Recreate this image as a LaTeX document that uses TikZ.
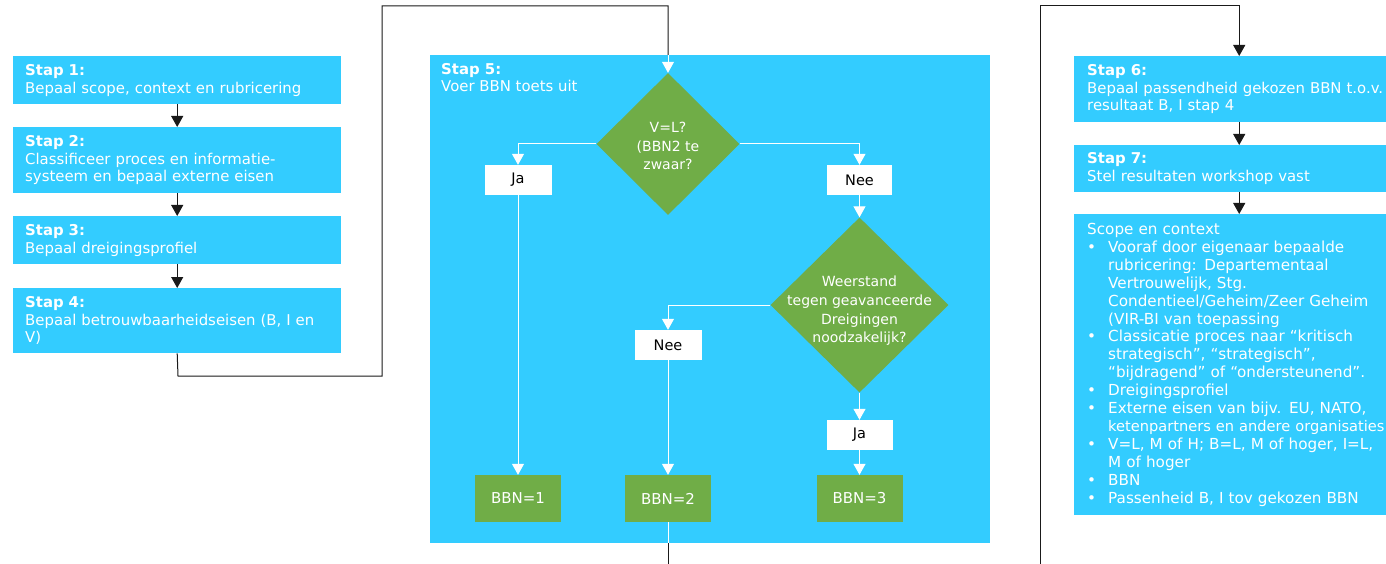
\documentclass[tikz,border=0pt]{standalone}
\usepackage{fontspec}
\setmainfont{DejaVu Sans}
\usetikzlibrary{arrows.meta,shapes.geometric}
\definecolor{stepblue}{HTML}{33CCFF}
\definecolor{leafgreen}{HTML}{70AD47}
\definecolor{linkgray}{HTML}{1A1A1A}

\tikzset{
  stepbox/.style={fill=stepblue, text=white, anchor=north west, align=left,
    inner xsep=12pt, inner ysep=0pt, font=\fontsize{14.9}{17.7}\selectfont},
  decision/.style={diamond, fill=leafgreen, inner sep=0pt},
  dtext/.style={text=white, align=center, font=\fontsize{14}{18.6}\selectfont},
  answer/.style={fill=white, text=black, minimum height=30pt, inner sep=0pt,
    font=\fontsize{14.5}{17}\selectfont},
  leaf/.style={fill=leafgreen, text=white, minimum width=86pt, minimum height=47pt,
    inner sep=0pt, font=\fontsize{15}{17}\selectfont},
  link/.style={draw=linkgray, line width=1pt},
  blackarrow/.style={link, -{Triangle[width=12pt,length=11pt]}},
  whitelink/.style={draw=white, line width=1pt},
  whitearrow/.style={whitelink, -{Triangle[width=12pt,length=11pt]}},
}

\begin{document}
\begin{tikzpicture}[x=1pt,y=-1pt]
\useasboundingbox (0,0) rectangle (1386,564);
\fill[white] (0,0) rectangle (1386,564);

% left column: steps 1-4
\node[stepbox, text width=304pt, minimum height=48pt] (s1) at (13,56)
  {\textbf{Stap 1:}\\Bepaal scope, context en rubricering};
\node[stepbox, text width=304pt, minimum height=66pt] (s2) at (13,127)
  {\textbf{Stap 2:}\\Classificeer proces en informatie-\\systeem en bepaal externe eisen};
\node[stepbox, text width=304pt, minimum height=48pt] (s3) at (13,216)
  {\textbf{Stap 3:}\\Bepaal dreigingsprofiel};
\node[stepbox, text width=304pt, minimum height=65pt] (s4) at (13,288)
  {\textbf{Stap 4:}\\Bepaal betrouwbaarheidseisen (B, I en\\V)};

\draw[blackarrow] (s1.south) -- (s2.north);
\draw[blackarrow] (s2.south) -- (s3.north);
\draw[blackarrow] (s3.south) -- (s4.north);

% step 5: the BBN test
\node[fill=stepblue, anchor=north west, minimum width=560pt, minimum height=488pt,
  inner sep=0pt] (s5) at (430,55) {};
\node[stepbox, fill=none, inner xsep=0pt] (s5t) at (441,63)
  {\textbf{Stap 5:}\\Voer BBN toets uit};

\node[decision, minimum width=143pt, minimum height=142pt] (d1) at (668,144) {};
\node[dtext] (d1t) at (668,146) {V=L?\\(BBN2 te\\zwaar?};

\node[answer, minimum width=67pt] (ja1) at (518,180) {Ja};
\node[answer, minimum width=65pt] (nee1) at (859.5,180) {Nee};

\node[decision, minimum width=178pt, minimum height=175pt] (d2) at (859.5,305) {};
\node[dtext] (d2t) at (859.5,311) {Weerstand\\tegen geavanceerde\\Dreigingen\\noodzakelijk?};

\node[answer, minimum width=67pt] (nee2) at (668,345) {Nee};
\node[answer, minimum width=66pt] (ja2) at (859.5,435) {Ja};

\node[leaf] (b1) at (518,498.5) {BBN=1};
\node[leaf] (b2) at (668,498.5) {BBN=2};
\node[leaf] (b3) at (859.5,498.5) {BBN=3};

\coordinate (in5) at (d1 |- s5.north);
\coordinate (out5) at (b2 |- s5.south);

\draw[whitearrow] (in5) -- (d1.north);
\draw[whitearrow] (d1.west) -| (ja1.north);
\draw[whitearrow] (d1.east) -| (nee1.north);
\draw[whitearrow] (nee1.south) -- (d2.north);
\draw[whitearrow] (d2.west) -| (nee2.north);
\draw[whitearrow] (d2.south) -- (ja2.north);
\draw[whitearrow] (ja1.south) -- (b1.north);
\draw[whitearrow] (nee2.south) -- (b2.north);
\draw[whitearrow] (ja2.south) -- (b3.north);
\draw[whitelink] (b2.south) -- (out5);

% right column: steps 6-7 and the summary (the boxes run on past the right edge)
\node[stepbox, inner xsep=13pt, text width=304pt, minimum height=66pt] (s6) at (1074,56)
  {\textbf{Stap 6:}\\Bepaal passendheid gekozen BBN t.o.v.\\resultaat B, I stap 4};
\node[stepbox, inner xsep=13pt, text width=304pt, minimum height=47pt] (s7) at (1074,145)
  {\textbf{Stap 7:}\\Stel resultaten workshop vast};
\node[stepbox, inner xsep=13pt, text width=304pt, minimum height=301pt,
  font=\fontsize{15.2}{17.9}\selectfont] (sum) at (1074,214)
  {Scope en context\\
   \makebox[21pt][l]{\textbullet}Vooraf door eigenaar bepaalde\\
   \hspace*{21pt}rubricering: Departementaal\\
   \hspace*{21pt}Vertrouwelijk, Stg.\\
   \hspace*{21pt}Condentieel/Geheim/Zeer Geheim\\
   \hspace*{21pt}(VIR-BI van toepassing\\
   \makebox[21pt][l]{\textbullet}Classicatie proces naar “kritisch\\
   \hspace*{21pt}strategisch”, “strategisch”,\\
   \hspace*{21pt}“bijdragend” of “ondersteunend”.\\
   \makebox[21pt][l]{\textbullet}Dreigingsprofiel\\
   \makebox[21pt][l]{\textbullet}Externe eisen van bijv. EU, NATO,\\
   \hspace*{21pt}\mbox{\fontsize{14.6}{17.9}\selectfont ketenpartners en andere organisaties}\\
   \makebox[21pt][l]{\textbullet}V=L, M of H; B=L, M of hoger, I=L,\\
   \hspace*{21pt}M of hoger\\
   \makebox[21pt][l]{\textbullet}BBN\\
   \makebox[21pt][l]{\textbullet}Passenheid B, I tov gekozen BBN};

\draw[blackarrow] (s6.south) -- (s7.north);
\draw[blackarrow] (s7.south) -- (sum.north);

% long connectors between the columns
\coordinate (k1) at (178,376);
\coordinate (k2) at (382,6);
\coordinate (k3) at (668,600);
\coordinate (k4) at (1040,6);
\draw[link] (s4.south) -- (k1) -| (k2) -| (in5);
\draw[blackarrow] (out5) -- (k3) -| (k4) -| (s6.north);
\end{tikzpicture}
\end{document}
